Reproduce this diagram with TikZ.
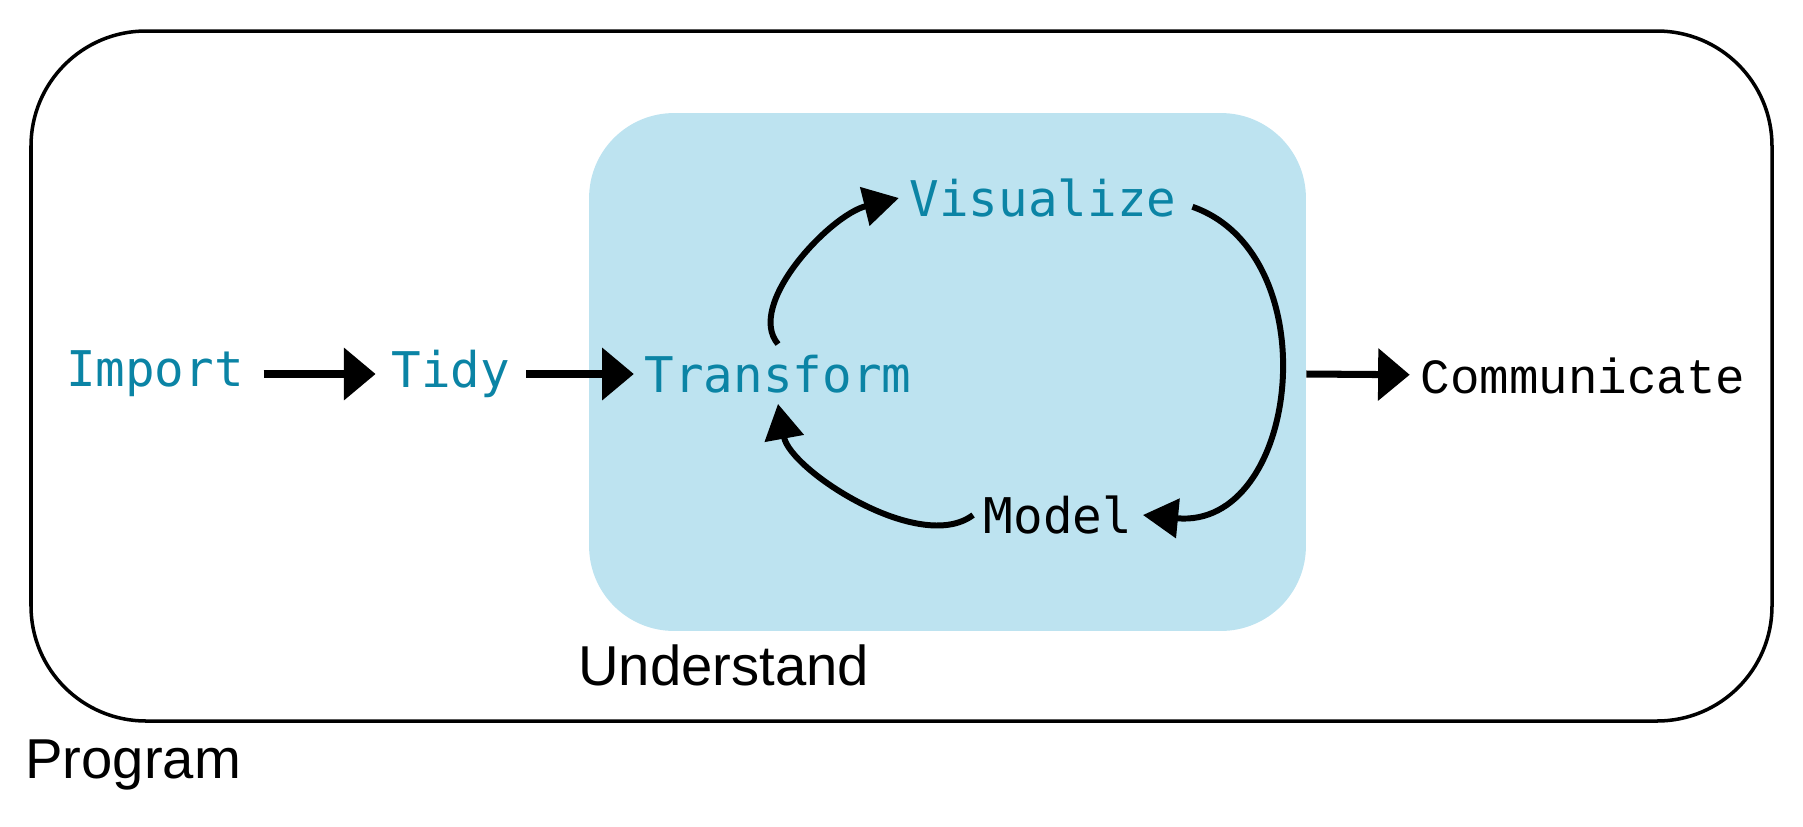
\documentclass[tikz,border=0pt]{standalone}
\usepackage{fontspec}
\setmainfont{Liberation Sans}
\newfontfamily\stagefont{DejaVu Sans Mono}
\newfontfamily\commfont{Liberation Mono}
\usetikzlibrary{arrows.meta}
\definecolor{understandblue}{HTML}{BDE3F0}
\definecolor{stageblue}{HTML}{0B84A5}

\begin{document}
\begin{tikzpicture}[x=0.02cm, y=-0.02cm,
    stage/.style={inner sep=6pt, font=\stagefont\fontsize{28}{34}\selectfont, text=stageblue},
    region/.style={inner sep=0pt, font=\fontsize{32}{38}\selectfont},
    flow/.style={line width=4pt, -{Triangle[length=18pt, width=29pt]}},
    loop/.style={line width=3.4pt, -{Triangle[length=20pt, width=22pt]}}]
    \useasboundingbox (0,0) rectangle (1803,826);
    % Program frame
    \draw[line width=2pt, rounded corners=2.3cm] (31,31) rectangle (1772,721);
    \node[region, anchor=west] (program) at (25,765) {Program};
    % Understand box
    \node[fill=understandblue, rounded corners=1.7cm, inner sep=0pt,
        minimum width=14.34cm, minimum height=10.36cm] (understand) at (947.5,372) {};
    \node[region, anchor=west] (understandlabel) at (578,665) {Understand};
    % Stages
    \node[stage] (import) at (155,374) {Import};
    \node[stage] (tidy) at (451,374) {Tidy};
    \node[stage] (transform) at (778,374) {Transform};
    \node[stage] (visualize) at (1043,198) {Visualize};
    \node[stage, text=black] (model) at (1058,515) {Model};
    \node[stage, text=black, font=\commfont\fontsize{28}{34}\selectfont] (communicate) at (1583,376) {Communicate};
    % Arrows
    \draw[flow, shorten <=5pt, shorten >=3pt] (import) -- (tidy);
    \draw[flow, shorten <=3pt] (tidy) -- (transform);
    \draw[flow] (understand.east |- transform) -- (communicate);
    \draw[loop] (transform.north) .. controls (745,305) and (830,215) .. (visualize.west);
    \draw[loop] ([xshift=3pt, yshift=-5pt]visualize.east) .. controls (1330,255) and (1300,530) .. (model.east);
    \draw[loop] (model.west) .. controls (920,555) and (790,470) .. (transform.south);
\end{tikzpicture}
\end{document}
